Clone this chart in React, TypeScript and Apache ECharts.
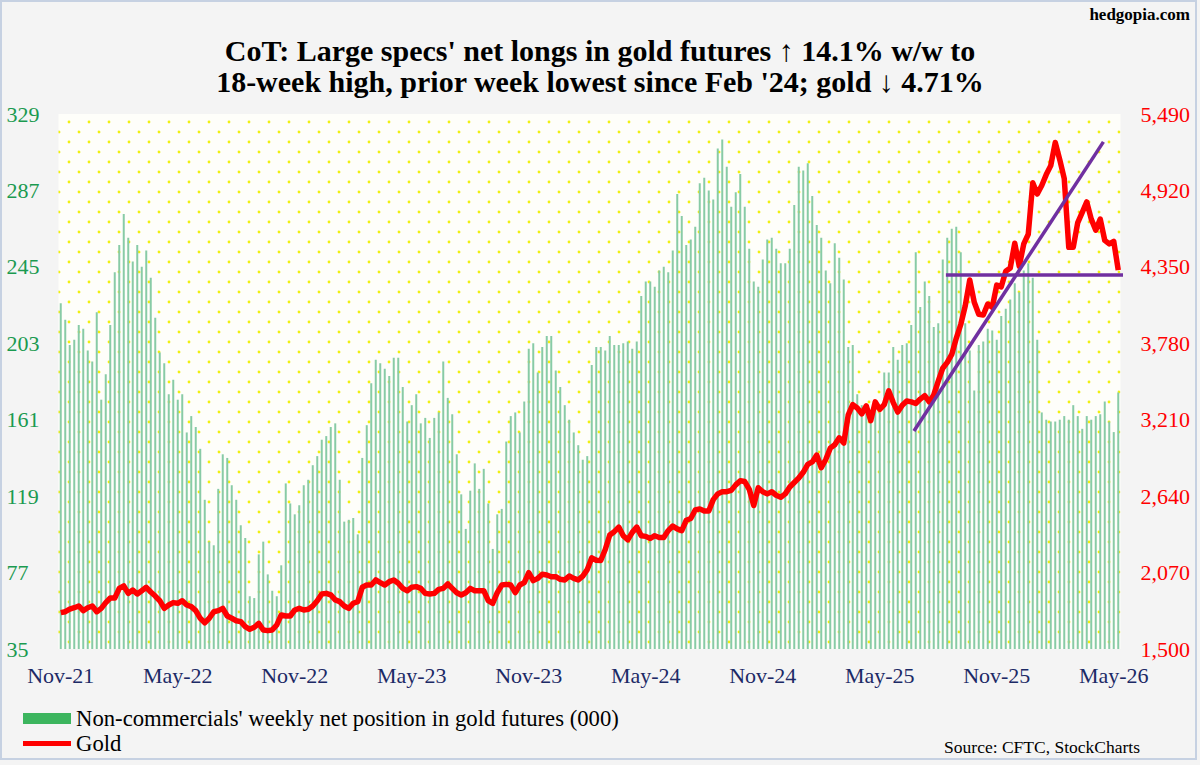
import React, { useEffect, useRef } from "react";
import * as echarts from "echarts";

// ---------- data ----------
const firstWeek = "2021-11-02";
const xTickLabels = ["Nov-21", "May-22", "Nov-22", "May-23", "Nov-23", "May-24", "Nov-24", "May-25", "Nov-25", "May-26"];
const weeksPerTick = 26;

// Non-commercials' weekly net position in gold futures (000)
const netPositions = [
  225, 216, 202, 205, 213, 211, 199, 193, 220, 172,
  186, 213, 242, 257, 274, 261, 248, 257, 245, 254,
  239, 217, 198, 192, 175, 183, 172, 175, 154, 163,
  157, 145, 117, 94, 92, 123, 142, 140, 125, 117,
  103, 96, 64, 63, 87, 94, 76, 67, 64, 81,
  126, 115, 109, 114, 125, 128, 136, 141, 150, 152,
  157, 159, 128, 105, 106, 107, 98, 140, 158, 181,
  194, 192, 189, 185, 195, 195, 179, 160, 169, 175,
  159, 162, 151, 162, 165, 193, 173, 164, 142, 120,
  101, 122, 137, 123, 134, 115, 90, 109, 112, 149,
  163, 165, 154, 171, 200, 203, 187, 201, 207, 207,
  188, 179, 169, 161, 154, 147, 139, 141, 191, 201,
  201, 199, 207, 202, 202, 203, 204, 200, 204, 229,
  237, 237, 234, 243, 245, 242, 254, 285, 273, 257,
  260, 267, 291, 294, 287, 282, 310, 315, 300, 278,
  286, 296, 278, 255, 237, 234, 249, 260, 261, 255,
  247, 247, 255, 279, 300, 298, 302, 284, 268, 261,
  243, 236, 258, 250, 238, 201, 202, 175, 169, 167,
  165, 169, 165, 187, 187, 201, 194, 202, 203, 213,
  253, 223, 237, 229, 212, 214, 249, 261, 266, 267,
  253, 214, 199, 177, 202, 204, 211, 210, 205, 218,
  222, 227, 236, 231, 243, 247, 239, 205, 165, 161,
  160, 160, 161, 163, 161, 169, 163, 156, 163, 161,
  163, 164, 171, 160, 154.2, 176,
];

// Gold price
const goldPrices = [
  1771, 1778, 1798, 1808, 1821, 1786, 1808, 1821, 1778, 1803,
  1846, 1880, 1880, 1952, 1970, 1915, 1940, 1910, 1935, 1960,
  1925, 1895, 1860, 1803, 1828, 1846, 1841, 1860, 1828, 1816,
  1786, 1729, 1696, 1729, 1778, 1786, 1803, 1746, 1729, 1711,
  1704, 1667, 1647, 1662, 1691, 1642, 1637, 1642, 1679, 1754,
  1746, 1746, 1791, 1803, 1791, 1796, 1821, 1860, 1910, 1915,
  1903, 1866, 1853, 1821, 1803, 1841, 1853, 1960, 1977, 1977,
  2015, 1995, 1977, 2002, 2015, 1990, 1952, 1935, 1960, 1965,
  1952, 1915, 1910, 1915, 1945, 1952, 1985, 1952, 1920, 1903,
  1920, 1952, 1935, 1935, 1935, 1860, 1841, 1920, 1977, 1982,
  1977, 1920, 1977, 1995, 2069, 2010, 2027, 2057, 2052, 2039,
  2039, 2020, 2015, 2044, 2027, 2015, 2044, 2092, 2180, 2162,
  2160, 2242, 2350, 2375, 2409, 2345, 2314, 2370, 2409, 2345,
  2340, 2324, 2345, 2332, 2332, 2383, 2417, 2396, 2383, 2460,
  2473, 2537, 2545, 2529, 2529, 2614, 2657, 2673, 2673, 2683,
  2724, 2755, 2749, 2691, 2570, 2703, 2673, 2657, 2673, 2647,
  2632, 2657, 2708, 2742, 2775, 2818, 2877, 2895, 2946, 2852,
  2913, 2998, 3023, 3075, 3036, 3246, 3323, 3297, 3254, 3313,
  3203, 3343, 3287, 3323, 3425, 3338, 3267, 3318, 3349, 3343,
  3331, 3364, 3390, 3343, 3395, 3497, 3594, 3638, 3697, 3817,
  3920, 4060, 4252, 4086, 3996, 3991, 4073, 4048, 4214, 4201,
  4317, 4342, 4526, 4355, 4521, 4593, 4977, 4893, 4957, 5038,
  5105, 5277, 5149, 5008, 4496, 4496, 4680, 4757, 4834, 4706,
  4624, 4706, 4547, 4521, 4540, 4326,
];

// annotation lines: [week index, gold price]
const risingTrend = [[189.6, 3126], [231.7, 5282]];
const supportLine = [[196.7, 4289], [237.5, 4289]];

const leftAxis = { min: 35, max: 329, step: 42 };
const rightAxis = { min: 1500, max: 5490, step: 570 };

const barName = "Non-commercials' weekly net position in gold futures (000)";
const lineName = "Gold";
const titleText =
  "CoT: Large specs' net longs in gold futures \u2191 14.1% w/w to\n18-week high, prior week lowest since Feb '24; gold \u2193 4.71%";

function buildWeeks(start: string, n: number): string[] {
  const out: string[] = [];
  const t0 = new Date(start + "T00:00:00Z").getTime();
  for (let i = 0; i < n; i++) {
    out.push(new Date(t0 + i * 7 * 86400000).toISOString().slice(0, 10));
  }
  return out;
}

const SERIF = "'Liberation Serif', 'Times New Roman', serif";

export default function App() {
  const ref = useRef<HTMLDivElement>(null);

  useEffect(() => {
    if (!ref.current) return;
    const chart = echarts.init(ref.current, null, { renderer: "svg" });
    const weeks = buildWeeks(firstWeek, netPositions.length);

    const c = document.createElement("canvas");
    c.width = 20;
    c.height = 20;
    const ctx = c.getContext("2d")!;
    ctx.fillStyle = "#fefefa";
    ctx.fillRect(0, 0, 20, 20);
    ctx.fillStyle = "#f0f010";
    [[9, 2], [19, 12], [-1, 12]].forEach(([x, y]) => {
      ctx.beginPath();
      ctx.arc(x, y, 1.4, 0, Math.PI * 2);
      ctx.fill();
    });
    const dotPattern = { image: c, repeat: "repeat", imageWidth: 20, imageHeight: 20 };

    const option: any = {
      animation: false,
      backgroundColor: "#f4f4f4",
      title: [
        {
          text: titleText,
          left: "center",
          top: 30,
          textStyle: {
            fontFamily: SERIF,
            fontSize: 30,
            fontWeight: "bold",
            color: "#000",
            lineHeight: 31,
            align: "center",
          },
        },
        {
          text: "hedgopia.com",
          right: 5,
          top: 1,
          textStyle: { fontFamily: SERIF, fontSize: 17, fontWeight: "bold", color: "#000" },
        },
        {
          text: "Source: CFTC, StockCharts",
          right: 55,
          top: 733,
          textStyle: { fontFamily: SERIF, fontSize: 17.5, fontWeight: "normal", color: "#000" },
        },
      ],
      legend: {
        orient: "vertical",
        left: 23,
        top: 707,
        padding: 0,
        itemWidth: 48,
        itemHeight: 11,
        itemGap: 2,
        textStyle: { fontFamily: SERIF, fontSize: 22.7, color: "#000" },
        data: [
          { name: barName, icon: "rect", itemStyle: { color: "#3cb55e" } },
          { name: lineName, icon: "path://M0,0H48V5H0Z", itemStyle: { color: "#ff0000" } },
        ],
      },
      grid: {
        left: 58.5,
        right: 79.5,
        top: 114,
        bottom: 116,
        show: true,
        borderWidth: 0,
        backgroundColor: dotPattern,
      },
      xAxis: [
        {
          type: "category",
          data: weeks,
          axisLine: { show: false },
          axisTick: { show: false },
          splitLine: { show: false },
          axisLabel: {
            interval: (index: number) => index % weeksPerTick === 0,
            formatter: (_v: string, index: number) => xTickLabels[index / weeksPerTick] ?? "",
            fontFamily: SERIF,
            fontSize: 22,
            color: "#1c2a66",
            margin: 15,
          },
        },
        {
          type: "value",
          show: false,
          min: -0.5,
          max: netPositions.length - 0.5,
        },
      ],
      yAxis: [
        {
          type: "value",
          position: "left",
          min: leftAxis.min,
          max: leftAxis.max,
          interval: leftAxis.step,
          axisLine: { show: false },
          axisTick: { show: false },
          splitLine: { show: false },
          axisLabel: {
            fontFamily: SERIF,
            fontSize: 22,
            color: "#1a9a50",
            align: "left",
            margin: 52,
          },
        },
        {
          type: "value",
          position: "right",
          min: rightAxis.min,
          max: rightAxis.max,
          interval: rightAxis.step,
          axisLine: { show: false },
          axisTick: { show: false },
          splitLine: { show: false },
          axisLabel: {
            fontFamily: SERIF,
            fontSize: 22,
            color: "#ff0000",
            align: "left",
            margin: 20,
            formatter: (v: number) => v.toLocaleString("en-US"),
          },
        },
      ],
      series: [
        {
          name: barName,
          type: "bar",
          xAxisIndex: 0,
          yAxisIndex: 0,
          data: netPositions,
          barWidth: 2,
          itemStyle: { color: "#88cba6" },
          silent: true,
          z: 2,
        },
        {
          name: lineName,
          type: "line",
          xAxisIndex: 0,
          yAxisIndex: 1,
          data: goldPrices,
          symbol: "none",
          lineStyle: { color: "#ff0000", width: 5.5, join: "round" },
          itemStyle: { color: "#ff0000" },
          silent: true,
          z: 3,
        },
        {
          name: "rising trend",
          type: "line",
          xAxisIndex: 1,
          yAxisIndex: 1,
          data: risingTrend,
          symbol: "none",
          clip: false,
          lineStyle: { color: "#7030a0", width: 3.5 },
          silent: true,
          z: 4,
        },
        {
          name: "support",
          type: "line",
          xAxisIndex: 1,
          yAxisIndex: 1,
          data: supportLine,
          symbol: "none",
          clip: false,
          lineStyle: { color: "#7030a0", width: 3.5 },
          silent: true,
          z: 4,
        },
      ],
      graphic: [
        {
          type: "rect",
          z: 100,
          silent: true,
          shape: { x: 1, y: 1, width: 1195, height: 758 },
          style: { fill: "none", stroke: "#c6d1e2", lineWidth: 2 },
        },
      ],
    };

    chart.setOption(option);
    return () => chart.dispose();
  }, []);

  return <div ref={ref} style={{ position: "absolute", left: 0, top: 0, width: 1200, height: 765 }} />;
}
